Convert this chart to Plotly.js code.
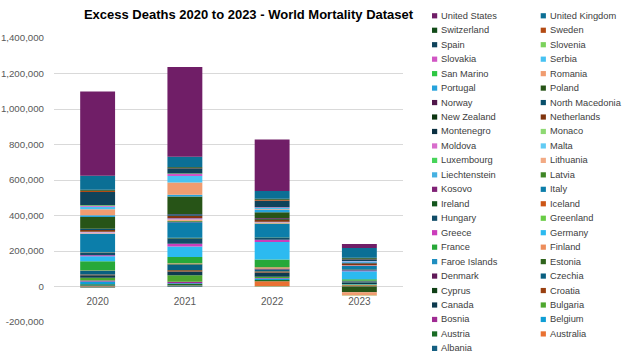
<!DOCTYPE html>
<html>
<head>
<meta charset="utf-8">
<script src="https://cdn.plot.ly/plotly-3.0.1.min.js"></script>
<style>
  html, body { margin: 0; padding: 0; background: #fff; }
  #chart { width: 624px; height: 355px; }
</style>
</head>
<body>
<div id="chart"></div>
<script>
// ---- Data (stack order: bottom -> top) ----
const years = ['2020', '2021', '2022', '2023'];
const countries = ['Albania','Australia','Austria','Belgium','Bosnia','Bulgaria','Canada','Croatia','Cyprus','Czechia',
  'Denmark','Estonia','Faroe Islands','Finland','France','Germany','Greece','Greenland','Hungary','Iceland',
  'Ireland','Italy','Kosovo','Latvia','Liechtenstein','Lithuania','Luxembourg','Malta','Moldova','Monaco',
  'Montenegro','Netherlands','New Zealand','North Macedonia','Norway','Poland','Portugal','Romania','San Marino','Serbia',
  'Slovakia','Slovenia','Spain','Sweden','Switzerland','United Kingdom','United States'];
const y2020 = [6000,-3000,7000,15000,6000,15000,14000,5000,300,19000,
  1000,500,20,1000,53000,28000,5000,10,15000,50,
  2000,103000,1000,1000,50,5000,500,300,4000,50,
  1000,10000,-2000,6000,200,66000,10000,34000,100,14000,
  4000,4000,75000,8000,5000,79000,474000];
const y2021 = [5000,2000,7000,5000,8000,37000,20000,8000,500,30000,
  2000,3000,30,4000,34000,60000,15000,30,30000,100,
  4000,88000,2000,5000,40,7000,500,300,7000,60,
  2000,12000,-1000,9000,1000,98000,11000,68000,100,37000,
  11000,3000,30000,2000,4000,58000,506000];
const y2022 = [2000,28000,7000,8000,3000,7000,24000,6000,1000,10000,
  4000,2000,40,7000,43000,99000,13000,40,9000,500,
  3000,75000,1000,2000,30,5000,500,500,3000,40,
  1000,12000,3000,2000,4000,32000,13000,5000,20,8000,
  3000,-2000,37000,5000,5000,45000,290000];
const y2023 = [1000,6000,3000,2000,1000,1000,8000,1000,500,4000,
  2000,1000,10,2000,8000,46000,4000,20,5000,200,
  2000,18000,500,1000,20,1000,300,300,1000,30,
  500,8000,2000,1000,3000,-33000,5000,-17000,10,3000,
  1000,-2000,10000,3000,5000,56000,22000];
const yTickVals = [-200000,0,200000,400000,600000,800000,1000000,1200000,1400000];
const yTickText = ['-200,000','0','200,000','400,000','600,000','800,000','1,000,000','1,200,000','1,400,000'];

// ---- Colours: Office theme accents with Excel tint/shade cycle ----
const accents = ['#156082','#E97132','#196B24','#0F9ED5','#A02B93','#4EA72E'];
const lumMods = [[1,0],[0.6,0],[0.8,0.2],[0.8,0],[0.6,0.4],[0.5,0],[0.7,0.3],[0.7,0],[0.5,0.5]];
function hexToHsl(h){
  const r=parseInt(h.slice(1,3),16)/255,g=parseInt(h.slice(3,5),16)/255,b=parseInt(h.slice(5,7),16)/255;
  const mx=Math.max(r,g,b),mn=Math.min(r,g,b);let H=0,S=0;const L=(mx+mn)/2;
  if(mx!==mn){const d=mx-mn;S=L>0.5?d/(2-mx-mn):d/(mx+mn);
    if(mx===r)H=((g-b)/d+(g<b?6:0));else if(mx===g)H=(b-r)/d+2;else H=(r-g)/d+4;H/=6;}
  return [H,S,L];
}
function hslToRgb(H,S,L){
  function f(p,q,t){if(t<0)t+=1;if(t>1)t-=1;if(t<1/6)return p+(q-p)*6*t;if(t<1/2)return q;if(t<2/3)return p+(q-p)*(2/3-t)*6;return p;}
  let r,g,b;if(S===0){r=g=b=L;}else{const q=L<0.5?L*(1+S):L+S-L*S;const p=2*L-q;r=f(p,q,H+1/3);g=f(p,q,H);b=f(p,q,H-1/3);}
  return 'rgb('+Math.round(r*255)+','+Math.round(g*255)+','+Math.round(b*255)+')';
}
function seriesColor(i){
  const hsl=hexToHsl(accents[i%6]);const m=lumMods[Math.floor(i/6)%lumMods.length];
  return hslToRgb(hsl[0],hsl[1],Math.min(1,hsl[2]*m[0]+m[1]));
}

// ---- Traces ----
const traces = countries.map((name,i)=>({
  type:'bar', name:name, x:years, y:[y2020[i],y2021[i],y2022[i],y2023[i]],
  marker:{color:seriesColor(i), line:{width:0}}, showlegend:false,
  hovertemplate: name+' %{x}: %{y:,}<extra></extra>'
}));

// ---- Layout geometry (pixels) ----
const W=624,H=355, L0=54, R0=403, T0=38, B0=322;
const pw=R0-L0, ph=B0-T0;
const fx = px => (px-L0)/pw;
const fy = py => (B0-py)/ph;

// custom legend (row-wise, two columns, top = last series)
const shapes=[], annotations=[];
const n=countries.length;
for(let k=0;k<n;k++){
  const idx=n-1-k, row=Math.floor(k/2), col=k%2;
  const cy=15.8+row*14.46;
  const sx=col===0?432:540.7;
  const tx=col===0?439:547.5;
  shapes.push({type:'rect', xref:'paper', yref:'paper', x0:fx(sx), x1:fx(sx+5.2), y0:fy(cy+2.6), y1:fy(cy-2.6),
    fillcolor:seriesColor(idx), line:{width:0}});
  annotations.push({xref:'paper', yref:'paper', x:fx(tx), y:fy(cy), xanchor:'left', yanchor:'middle',
    text:countries[idx], showarrow:false, font:{family:'Liberation Sans, Arial, sans-serif', size:9.3, color:'#404040'}});
}

const layout = {
  width:W, height:H,
  margin:{l:L0, r:W-R0, t:T0, b:H-B0, pad:0},
  paper_bgcolor:'#ffffff', plot_bgcolor:'#ffffff',
  barmode:'relative', bargap:0.6,
  title:{text:'Excess Deaths 2020 to 2023 - World Mortality Dataset', xref:'paper', x:fx(248.5), xanchor:'center',
    yref:'container', y:1-14.5/H, yanchor:'middle',
    font:{family:'Liberation Sans, Arial, sans-serif', size:13, color:'#000000', weight:'bold'}},
  xaxis:{type:'category', categoryorder:'array', categoryarray:years, anchor:'free', position:fy(287),
    showline:false, ticks:'', showgrid:false, zeroline:false, ticklabelstandoff:7,
    tickfont:{family:'Liberation Sans, Arial, sans-serif', size:10, color:'#595959'}},
  yaxis:{range:[-200000,1400000], tickvals:yTickVals, ticktext:yTickText, showline:false, ticks:'',
    gridcolor:'#D9D9D9', gridwidth:1, zeroline:true, zerolinecolor:'#D9D9D9', zerolinewidth:1,
    ticklabelstandoff:9, tickfont:{family:'Liberation Sans, Arial, sans-serif', size:9.7, color:'#595959'}},
  shapes:shapes, annotations:annotations,
  showlegend:false
};

Plotly.newPlot('chart', traces, layout, {displayModeBar:false, staticPlot:true});
</script>
</body>
</html>
